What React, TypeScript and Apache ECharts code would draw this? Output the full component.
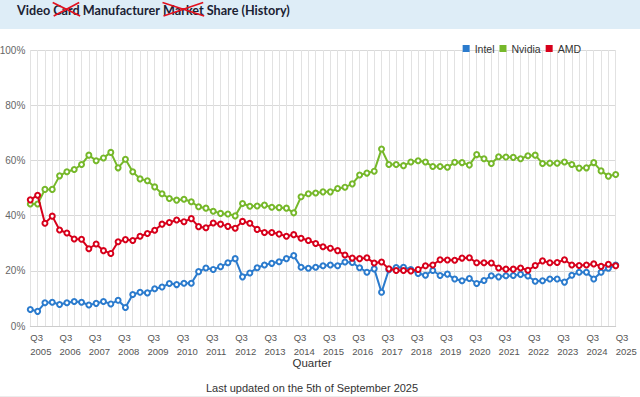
import React, { useEffect, useRef } from "react";
import * as echarts from "echarts";

// Quarter categories from Q3 2005 to Q3 2025
const FIRST_YEAR = 2005;
const FIRST_Q = 3;
const N_QUARTERS = 81;
const quarters: string[] = (() => {
  const out: string[] = [];
  let y = FIRST_YEAR;
  let q = FIRST_Q;
  for (let i = 0; i < N_QUARTERS; i++) {
    out.push(`Q${q} ${y}`);
    q++;
    if (q > 4) { q = 1; y++; }
  }
  return out;
})();

const intel = [
  6.0, 5.3, 8.4, 8.6, 7.8, 8.4, 8.9, 8.6, 7.6, 8.2, 8.9, 8.0, 9.3, 6.7, 11.4, 12.2, 12.0, 13.5, 14.1, 15.4, 15.0,
  15.5, 15.5, 19.7, 21.0, 20.5, 21.5, 22.9, 24.4, 17.8, 19.2, 21.1, 22.1, 22.7, 23.3, 24.4, 25.5, 21.3, 20.9, 21.3, 21.8,
  22.1, 21.8, 23.2, 23.0, 21.1, 19.5, 20.7, 12.2, 20.4, 21.2, 21.3, 20.5, 19.0, 18.4, 20.1, 18.3, 18.8, 17.0, 16.4, 17.2,
  15.4, 16.5, 18.2, 17.8, 18.2, 18.3, 18.7, 18.1, 16.2, 16.4, 17.0, 17.0, 15.9, 18.4, 19.5, 19.5, 17.0, 19.5, 20.9, 22.1,
];

const nvidia = [
  44.2, 44.2, 49.5, 49.5, 54.4, 55.9, 56.7, 58.5, 61.9, 59.9, 60.9, 62.9, 57.3, 60.4, 55.9, 53.3, 52.6, 50.4, 47.9, 46.2, 45.6,
  45.9, 45.0, 43.2, 42.7, 41.6, 40.8, 40.6, 39.9, 44.4, 43.4, 43.5, 43.8, 43.0, 42.9, 42.7, 41.0, 46.8, 47.9, 48.2, 48.6,
  48.6, 49.8, 50.3, 51.5, 54.7, 55.4, 56.1, 64.1, 58.5, 58.5, 58.1, 59.4, 59.9, 59.4, 57.8, 57.8, 57.5, 59.3, 59.2, 58.3,
  62.1, 60.6, 58.9, 61.3, 61.2, 61.1, 60.6, 61.7, 61.9, 58.9, 59.0, 59.0, 59.4, 58.5, 57.2, 57.3, 59.2, 56.2, 54.3, 54.9,
];

const amd = [
  45.7, 47.4, 37.2, 39.8, 34.8, 33.7, 31.5, 31.4, 28.0, 29.7, 27.3, 26.3, 30.5, 31.3, 31.0, 32.5, 33.5, 34.7, 36.9, 37.5, 38.4,
  37.8, 38.9, 36.0, 35.6, 37.3, 36.9, 36.1, 35.4, 37.9, 37.2, 35.0, 33.9, 33.9, 33.3, 32.5, 33.1, 31.8, 31.0, 29.9, 28.7,
  28.2, 27.3, 25.7, 24.6, 24.4, 24.7, 22.8, 23.2, 20.7, 20.1, 20.1, 19.9, 20.5, 21.8, 22.1, 24.0, 23.9, 23.8, 24.6, 24.7,
  22.9, 22.9, 22.8, 21.0, 20.6, 20.6, 21.0, 20.2, 21.9, 23.6, 22.9, 23.0, 24.0, 22.1, 21.9, 22.1, 22.5, 21.6, 22.4, 21.8,
];

const seriesNames = ["Intel", "Nvidia", "AMD"];
const seriesColors = ["#2b7bcd", "#76b82a", "#d7001b"];
const yTicks = [0, 20, 40, 60, 80, 100];

const titleParts = ["Video ", "Card", " Manufacturer ", "Market", " Share (History)"];
const titleStruck = [false, true, false, true, false];
const xAxisName = "Quarter";
const footer = "Last updated on the 5th of September 2025";

const TITLE_FONT_FAMILY = "Lato, 'Open Sans', sans-serif";
const SANS = "'Liberation Sans', Arial, sans-serif";

function buildTitleGraphics() {
  const canvas = document.createElement("canvas");
  const ctx = canvas.getContext("2d")!;
  const base = 13;
  ctx.font = `bold ${base}px ${TITLE_FONT_FAMILY}`;
  const full = ctx.measureText(titleParts.join("")).width;
  const targetWidth = 273;
  const size = (base * targetWidth) / full;
  ctx.font = `bold ${size}px ${TITLE_FONT_FAMILY}`;
  const els: any[] = [];
  let x = 17;
  const yMid = 10;
  titleParts.forEach((p, i) => {
    const w = ctx.measureText(p).width;
    els.push({
      type: "text",
      x,
      y: yMid,
      style: {
        text: p,
        font: `bold ${size}px ${TITLE_FONT_FAMILY}`,
        fill: "#1b2233",
        verticalAlign: "middle",
        align: "left",
      },
      z: 10,
    });
    if (titleStruck[i]) {
      const x0 = x - 0.5;
      const x1 = x + w + 0.5;
      els.push({
        type: "line",
        shape: { x1: x0, y1: 2.5, x2: x1, y2: 16 },
        style: { stroke: "#e3101e", lineWidth: 1.6 },
        z: 11,
      });
      els.push({
        type: "line",
        shape: { x1: x0 + 1, y1: 16, x2: x1 - 1, y2: 2.5 },
        style: { stroke: "#e3101e", lineWidth: 1.6 },
        z: 11,
      });
    }
    x += w;
  });
  return els;
}

export default function App() {
  const ref = useRef<HTMLDivElement>(null);

  useEffect(() => {
    document.body.style.margin = "0";
    if (!ref.current) return;
    const chart = echarts.init(ref.current, undefined, { renderer: "svg" });

    const seriesData = [intel, nvidia, amd];

    const option: any = {
      animation: false,
      backgroundColor: "#ffffff",
      color: seriesColors,
      textStyle: { fontFamily: SANS },
      grid: {
        left: 30.3,
        right: 24.3,
        top: 50,
        bottom: 71,
        containLabel: false,
        outerBoundsMode: "none",
      },
      legend: {
        data: seriesNames.map((n, i) => ({
          name: n,
          itemStyle: { color: seriesColors[i], borderWidth: 0 },
        })),
        right: 54,
        top: 38,
        icon: "rect",
        itemWidth: 7,
        itemHeight: 7,
        itemGap: 5,
        textStyle: { fontSize: 10.5, color: "#333", fontFamily: SANS },
      },
      xAxis: {
        type: "category",
        data: quarters,
        boundaryGap: false,
        axisLine: { show: true, lineStyle: { color: "#cccccc", width: 1 } },
        axisTick: { show: false },
        splitLine: { show: true, interval: 0, lineStyle: { color: "#e2e2e2", width: 1 } },
        axisLabel: {
          interval: 3,
          align: "left",
          margin: 4,
          color: "#555",
          fontSize: 9.5,
          lineHeight: 14,
          fontFamily: SANS,
          formatter: (v: string) => v.replace(" ", "\n"),
        },
      },
      yAxis: {
        type: "value",
        min: yTicks[0],
        max: yTicks[yTicks.length - 1],
        interval: 20,
        axisLine: { show: false },
        axisTick: { show: false },
        splitLine: { show: true, lineStyle: { color: "#d9d9d9", width: 1 } },
        axisLabel: {
          formatter: "{value}%",
          color: "#666",
          fontSize: 10,
          margin: 5,
          fontFamily: SANS,
        },
      },
      series: seriesNames.map((name, i) => ({
        name,
        type: "line",
        data: seriesData[i],
        symbol: "emptyCircle",
        symbolSize: 5,
        showAllSymbol: true,
        color: seriesColors[i],
        lineStyle: { color: seriesColors[i], width: 2 },
        itemStyle: { color: seriesColors[i], borderColor: seriesColors[i], borderWidth: 2 },
        z: 2 + i,
      })),
      graphic: [
        {
          type: "rect",
          shape: { x: 0, y: 0, width: 640, height: 29 },
          style: { fill: "#deedf7" },
          z: 0,
        },
        ...buildTitleGraphics(),
        {
          type: "text",
          x: 312,
          y: 363,
          style: {
            text: xAxisName,
            font: `11.5px ${SANS}`,
            fill: "#333",
            align: "center",
            verticalAlign: "middle",
          },
        },
        {
          type: "text",
          x: 312,
          y: 388,
          style: {
            text: footer,
            font: `11px ${SANS}`,
            fill: "#333",
            align: "center",
            verticalAlign: "middle",
          },
        },
        {
          type: "line",
          shape: { x1: 0, y1: 396.5, x2: 620, y2: 396.5 },
          style: { stroke: "#ececec", lineWidth: 1 },
        },
      ],
    };

    chart.setOption(option);
    return () => chart.dispose();
  }, []);

  return (
    <div
      ref={ref}
      style={{ position: "fixed", left: 0, top: 0, width: 640, height: 397, background: "#fff" }}
    />
  );
}
